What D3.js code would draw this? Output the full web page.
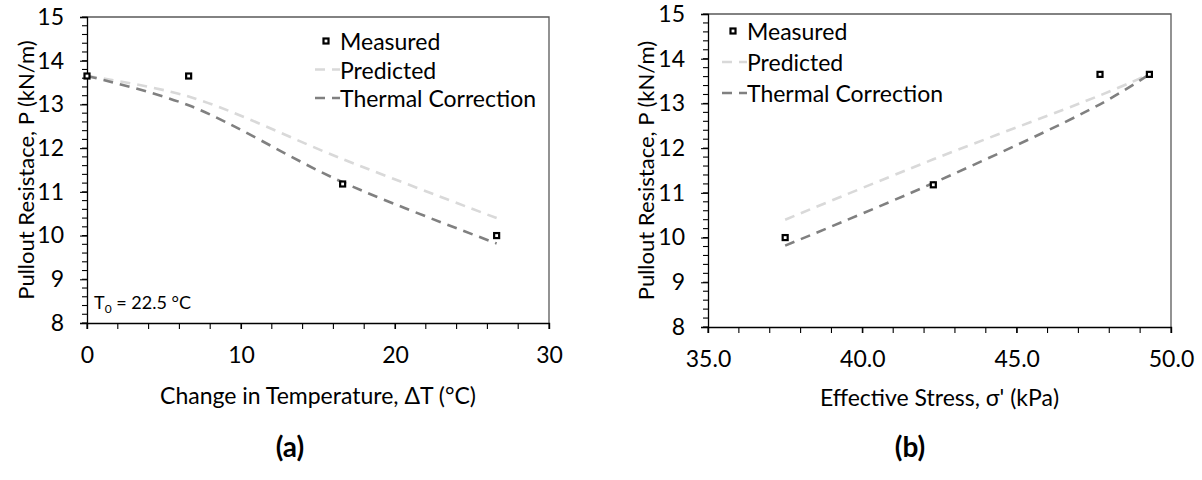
<!DOCTYPE html>
<html>
<head>
<meta charset="utf-8">
<script src="https://cdn.jsdelivr.net/npm/d3@7"></script>
<style>
  html, body { margin: 0; padding: 0; background: #fff; }
  svg { display: block; }
  text { font-family: Lato, "Open Sans", sans-serif; fill: #000; }
</style>
</head>
<body>
<svg id="chart" width="1202" height="480"></svg>
<script>
// Pullout resistance against temperature change and against effective stress
const deltaT = [0, 6.6, 16.6, 26.6];          // °C
const stress = [49.3, 47.7, 42.3, 37.5];      // kPa, same tests
const measuredP = [13.65, 13.65, 11.18, 10.0];
const predictedP = [13.65, 13.18, 11.75, 10.4];
const thermalP = [13.65, 12.98, 11.22, 9.82];

const seriesNames = ["Measured", "Predicted", "Thermal Correction"];
const yTicks = [8, 9, 10, 11, 12, 13, 14, 15];
const xTicksA = [0, 10, 20, 30];
const xTicksB = [35, 40, 45, 50];

const svg = d3.select("#chart");
svg.append("rect").attr("width", 1202).attr("height", 480).attr("fill", "#fff");

const FONT = 23;
const predColor = "#d9d9d9";
const thermColor = "#808080";
const dash = "10,7";

function marker(sel) {
  sel.attr("width", 5).attr("height", 5)
    .attr("fill", "#fff").attr("stroke", "#000").attr("stroke-width", 2.2);
}

function panel(opt) {
  const g = svg.append("g");
  const x = d3.scaleLinear().domain(opt.xDomain).range([opt.left, opt.right]);
  const y = d3.scaleLinear().domain([8, 15]).range([opt.bottom, opt.top]);

  // plot frame (top and right edges)
  g.append("path")
    .attr("d", `M${opt.left},${opt.top}H${opt.right}V${opt.bottom}`)
    .attr("fill", "none").attr("stroke", "#595959").attr("stroke-width", 1.3);

  // y axis: major + minor ticks
  const yAxis = d3.axisLeft(y).tickValues(yTicks).tickSize(7).tickPadding(16).tickFormat(d3.format("d"));
  const ya = g.append("g").attr("transform", `translate(${opt.left},0)`).call(yAxis);
  const yMinor = d3.range(8, 15.001, 0.2);
  ya.selectAll(".minor").data(yMinor).enter().append("line")
    .attr("class", "minor").attr("x1", -5).attr("x2", 0)
    .attr("y1", d => y(d)).attr("y2", d => y(d)).attr("stroke", "#000");

  // x axis
  const xAxis = d3.axisBottom(x).tickValues(opt.xTicks).tickSize(6).tickPadding(18).tickFormat(opt.xFormat);
  const xa = g.append("g").attr("transform", `translate(0,${opt.bottom})`).call(xAxis);
  xa.selectAll(".minor").data(d3.range(opt.xDomain[0], opt.xDomain[1] + 1e-6, opt.xMinor)).enter().append("line")
    .attr("class", "minor").attr("y1", 0).attr("y2", 6)
    .attr("x1", d => x(d)).attr("x2", d => x(d)).attr("stroke", "#000");

  [ya, xa].forEach(a => {
    a.select(".domain").attr("stroke", "#000").attr("stroke-width", 1.3);
    a.selectAll(".tick line").attr("stroke", "#000").attr("stroke-width", 1.1);
    a.selectAll(".tick text").attr("font-size", FONT).attr("font-family", "Lato, sans-serif").attr("fill", "#000");
  });
  ya.selectAll(".minor").attr("stroke-width", 1.1);
  xa.selectAll(".minor").attr("stroke-width", 1.1);

  // series lines
  const line = d3.line().x(d => x(d[0])).y(d => y(d[1])).curve(d3.curveCatmullRom.alpha(0.5));
  const pts = (vals) => opt.xs.map((v, i) => [v, vals[i]]).sort((a, b) => a[0] - b[0]);
  g.append("path").attr("d", line(pts(predictedP)))
    .attr("fill", "none").attr("stroke", predColor).attr("stroke-width", 2.6).attr("stroke-dasharray", dash);
  g.append("path").attr("d", line(pts(thermalP)))
    .attr("fill", "none").attr("stroke", thermColor).attr("stroke-width", 2.6).attr("stroke-dasharray", dash);

  // measured markers
  g.selectAll(".m").data(pts(measuredP)).enter().append("rect")
    .attr("x", d => x(d[0]) - 2.5).attr("y", d => y(d[1]) - 2.5)
    .call(marker);

  // axis titles
  g.append("text")
    .attr("transform", `translate(${opt.yTitleX},${(opt.top + opt.bottom) / 2}) rotate(-90)`)
    .attr("text-anchor", "middle").attr("dominant-baseline", "central")
    .attr("font-size", 22).text("Pullout Resistace, P (kN/m)");
  g.append("text")
    .attr("x", (opt.left + opt.right) / 2).attr("y", opt.xTitleY)
    .attr("text-anchor", "middle").attr("dominant-baseline", "central")
    .attr("font-size", FONT).text(opt.xTitle);

  // legend
  const lg = g.append("g");
  const lx = opt.legend[0], ly = opt.legend[1], step = opt.legend[2];
  lg.append("rect").attr("x", lx + 11 - 2.5).attr("y", ly - 2.5).call(marker);
  [predColor, thermColor].forEach((c, i) => {
    lg.append("line").attr("x1", lx).attr("x2", lx + 25)
      .attr("y1", ly + step * (i + 1)).attr("y2", ly + step * (i + 1))
      .attr("stroke", c).attr("stroke-width", 2.6).attr("stroke-dasharray", dash);
  });
  seriesNames.forEach((n, i) => {
    lg.append("text").attr("x", lx + 25).attr("y", ly + step * i)
      .attr("dominant-baseline", "central").attr("font-size", FONT).text(n);
  });

  // panel label
  svg.append("text")
    .attr("x", opt.panelX).attr("y", 446)
    .attr("text-anchor", "middle").attr("dominant-baseline", "central")
    .attr("font-family", "'Liberation Serif', 'Times New Roman', serif")
    .attr("font-weight", "bold").attr("font-size", 28).text(opt.panelLabel);

  return { g, x, y };
}

const a = panel({
  xs: deltaT, xDomain: [0, 30], xTicks: xTicksA, xMinor: 2, xFormat: d3.format("d"),
  left: 87, right: 549, top: 17, bottom: 323,
  yTitleX: 25, xTitleY: 395, xTitle: "Change in Temperature, \u0394T (\u00B0C)",
  legend: [315, 41, 28.5], panelX: 290, panelLabel: "(a)"
});

// reference temperature note
const note = a.g.append("text").attr("x", 94).attr("y", 309).attr("font-size", 18);
note.append("tspan").text("T");
note.append("tspan").attr("font-size", 12).attr("dy", 4).text("0");
note.append("tspan").attr("dy", -4).text(" = 22.5 \u00B0C");

panel({
  xs: stress, xDomain: [35, 50], xTicks: xTicksB, xMinor: 1, xFormat: d3.format(".1f"),
  left: 708, right: 1171, top: 14, bottom: 327,
  yTitleX: 645, xTitleY: 397, xTitle: "Effective Stress, \u03C3' (kPa)",
  legend: [722, 31, 31], panelX: 910, panelLabel: "(b)"
});
</script>
</body>
</html>
